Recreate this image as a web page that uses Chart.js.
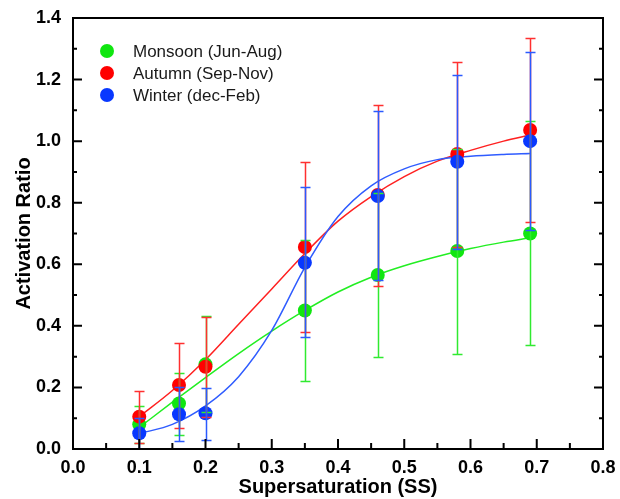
<!DOCTYPE html>
<html lang="en">
<head>
    <meta charset="UTF-8">
    <title>Activation Ratio vs Supersaturation</title>
    <script src="https://cdn.jsdelivr.net/npm/chart.js"></script>
    <style>
        body {
            margin: 0;
            background: #ffffff;
        }
        #wrap {
            width: 620px;
            height: 499px;
        }
    </style>
</head>
<body>
    <div id="wrap"><canvas id="ratioChart"></canvas></div>

    <script>
        // supersaturation levels (x)
        const ssLevels = [0.1, 0.16, 0.2, 0.35, 0.46, 0.58, 0.69];

        // measured activation ratio and error bar ends
        const monsoonRatio = [0.08, 0.148, 0.275, 0.45, 0.565, 0.643, 0.70];
        const monsoonLow   = [0.02, 0.045, 0.12, 0.22, 0.30, 0.31, 0.338];
        const monsoonHigh  = [0.14, 0.246, 0.432, 0.68, 0.83, 0.975, 1.065];

        const autumnRatio = [0.105, 0.208, 0.267, 0.656, 0.825, 0.958, 1.036];
        const autumnLow   = [0.02, 0.067, 0.105, 0.379, 0.53, 0.655, 0.736];
        const autumnHigh  = [0.187, 0.343, 0.428, 0.933, 1.117, 1.257, 1.334];

        const winterRatio = [0.051, 0.113, 0.116, 0.605, 0.822, 0.933, 1.0];
        const winterLow   = [0.0, 0.025, 0.029, 0.363, 0.548, 0.65, 0.712];
        const winterHigh  = [0.10, 0.20, 0.197, 0.851, 1.097, 1.215, 1.288];

        // fitted curves
        const fitSS      = [0.10, 0.15, 0.20, 0.25, 0.30, 0.35, 0.40, 0.45, 0.50, 0.55, 0.60, 0.65, 0.69];
        const monsoonFit = [0.07, 0.152, 0.232, 0.31, 0.383, 0.45, 0.51, 0.558, 0.595, 0.625, 0.651, 0.672, 0.686];
        const autumnFit  = [0.105, 0.19, 0.29, 0.405, 0.52, 0.635, 0.74, 0.82, 0.885, 0.935, 0.97, 1.0, 1.02];
        const winterFit  = [0.05, 0.08, 0.14, 0.235, 0.385, 0.59, 0.755, 0.855, 0.91, 0.94, 0.951, 0.957, 0.96];

        const seasonLabels = ['Monsoon (Jun-Aug)', 'Autumn (Sep-Nov)', 'Winter (dec-Feb)'];

        const fontFam = '"Liberation Sans", Arial, sans-serif';

        function pts(xs, ys) {
            return xs.map((x, i) => ({ x: x, y: ys[i] }));
        }

        const seasons = [
            { label: seasonLabels[0], ratio: monsoonRatio, low: monsoonLow, high: monsoonHigh, fit: monsoonFit,
              dot: '#10e610', line: '#22ee22', bar: '#30ea30' },
            { label: seasonLabels[1], ratio: autumnRatio, low: autumnLow, high: autumnHigh, fit: autumnFit,
              dot: '#ff0000', line: '#ff2020', bar: '#ff3030' },
            { label: seasonLabels[2], ratio: winterRatio, low: winterLow, high: winterHigh, fit: winterFit,
              dot: '#0838ff', line: '#2f5cff', bar: '#2a5aff' }
        ];

        const datasets = [];
        seasons.forEach((s, i) => {
            datasets.push({
                label: s.label + ' fit',
                data: pts(fitSS, s.fit),
                showLine: true,
                borderColor: s.line,
                borderWidth: 1.5,
                pointRadius: 0,
                cubicInterpolationMode: 'monotone',
                order: 10 - i
            });
        });
        seasons.forEach((s, i) => {
            datasets.push({
                label: s.label,
                data: pts(ssLevels, s.ratio),
                showLine: false,
                pointRadius: 7,
                pointBackgroundColor: s.dot,
                pointBorderColor: s.dot,
                pointBorderWidth: 0,
                order: 3 - i,
                errLow: s.low,
                errHigh: s.high,
                errColor: s.bar
            });
        });

        // error bars, drawn over the markers like the original
        const errorBars = {
            id: 'errorBars',
            afterDatasetsDraw(chart) {
                const ctx = chart.ctx;
                const xs = chart.scales.x, ys = chart.scales.y;
                const area = chart.chartArea;
                ctx.save();
                ctx.beginPath();
                ctx.rect(area.left, area.top, area.right - area.left, area.bottom - area.top);
                ctx.clip();
                chart.data.datasets.forEach(ds => {
                    if (!ds.errLow) return;
                    ctx.strokeStyle = ds.errColor;
                    ctx.lineWidth = 1.5;
                    ds.data.forEach((p, i) => {
                        const px = Math.round(xs.getPixelForValue(p.x)) + 0.5;
                        const y1 = Math.round(ys.getPixelForValue(ds.errLow[i])) + 0.5;
                        const y2 = Math.round(ys.getPixelForValue(ds.errHigh[i])) + 0.5;
                        ctx.beginPath();
                        ctx.moveTo(px, y1);
                        ctx.lineTo(px, y2);
                        ctx.moveTo(px - 5, y1);
                        ctx.lineTo(px + 5, y1);
                        ctx.moveTo(px - 5, y2);
                        ctx.lineTo(px + 5, y2);
                        ctx.stroke();
                    });
                });
                ctx.restore();
            }
        };

        // box frame with inward major/minor ticks
        const frameTicks = {
            id: 'frameTicks',
            afterDraw(chart) {
                const ctx = chart.ctx;
                const a = chart.chartArea;
                const xs = chart.scales.x, ys = chart.scales.y;
                ctx.save();
                ctx.strokeStyle = '#000';
                ctx.lineWidth = 2;
                ctx.strokeRect(a.left, a.top, a.right - a.left, a.bottom - a.top);
                ctx.beginPath();
                for (let v = 0; v <= 0.8001; v += 0.05) {
                    const major = Math.abs(v * 10 - Math.round(v * 10)) < 1e-6;
                    const px = xs.getPixelForValue(v);
                    const len = major ? 10 : 6;
                    ctx.moveTo(px, a.bottom);
                    ctx.lineTo(px, a.bottom - len);
                }
                for (let v = 0; v <= 1.4001; v += 0.1) {
                    const major = Math.abs(v * 5 - Math.round(v * 5)) < 1e-6;
                    const py = ys.getPixelForValue(v);
                    const len = major ? 9 : 4;
                    ctx.moveTo(a.left, py);
                    ctx.lineTo(a.left + len, py);
                    ctx.moveTo(a.right, py);
                    ctx.lineTo(a.right - len, py);
                }
                ctx.stroke();
                ctx.restore();
            }
        };

        // legend inside the plot, top left
        const insideLegend = {
            id: 'insideLegend',
            afterDraw(chart) {
                const ctx = chart.ctx;
                ctx.save();
                ctx.font = '17px ' + fontFam;
                ctx.textBaseline = 'middle';
                seasons.forEach((s, i) => {
                    const y = 51 + i * 22;
                    ctx.beginPath();
                    ctx.arc(107, y, 7, 0, Math.PI * 2);
                    ctx.fillStyle = s.dot;
                    ctx.fill();
                    ctx.fillStyle = '#1a1a1a';
                    ctx.fillText(s.label, 133, y + 1);
                });
                ctx.restore();
            }
        };

        function noPad(scale) {
            scale.paddingTop = 0;
            scale.paddingBottom = 0;
            scale.paddingLeft = 0;
            scale.paddingRight = 0;
        }

        const ctx = document.getElementById('ratioChart').getContext('2d');
        const ratioChart = new Chart(ctx, {
            type: 'scatter',
            data: { datasets: datasets },
            plugins: [errorBars, frameTicks, insideLegend],
            options: {
                responsive: true,
                maintainAspectRatio: false,
                animation: false,
                layout: { padding: { left: 0, right: 17, top: 18, bottom: 0 } },
                plugins: {
                    legend: { display: false },
                    tooltip: { enabled: false }
                },
                scales: {
                    x: {
                        type: 'linear',
                        min: 0,
                        max: 0.8,
                        grid: { display: false, drawTicks: false },
                        border: { display: false },
                        ticks: {
                            stepSize: 0.1,
                            padding: 8,
                            color: '#000',
                            font: { family: fontFam, size: 18, weight: 'bold' },
                            callback: v => v.toFixed(1)
                        },
                        title: {
                            display: true,
                            text: 'Supersaturation (SS)',
                            color: '#000',
                            font: { family: fontFam, size: 20, weight: 'bold' },
                            padding: { top: 0, bottom: 0 }
                        },
                        afterFit(scale) { scale.height = 50; noPad(scale); }
                    },
                    y: {
                        min: 0,
                        max: 1.4,
                        grid: { display: false, drawTicks: false },
                        border: { display: false },
                        ticks: {
                            stepSize: 0.2,
                            padding: 12,
                            color: '#000',
                            font: { family: fontFam, size: 18, weight: 'bold' },
                            callback: v => v.toFixed(1)
                        },
                        title: {
                            display: true,
                            text: 'Activation Ratio',
                            color: '#000',
                            font: { family: fontFam, size: 20, weight: 'bold' },
                            padding: { top: 12, bottom: 0 }
                        },
                        afterFit(scale) { scale.width = 73; noPad(scale); }
                    }
                }
            }
        });
    </script>
</body>
</html>
